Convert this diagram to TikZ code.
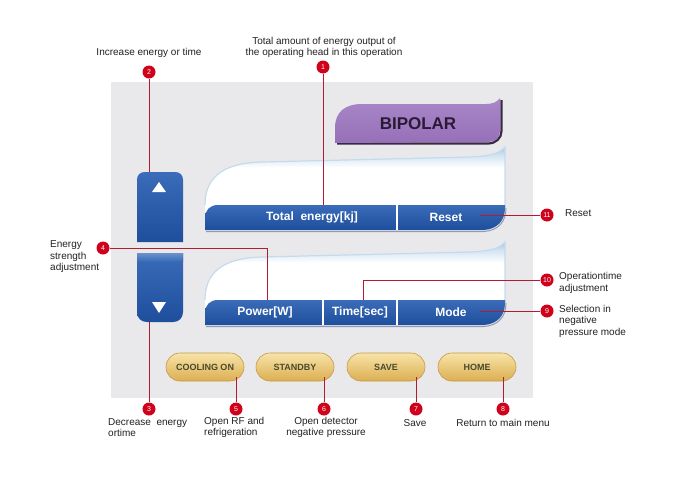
\documentclass[tikz,border=0pt]{standalone}
\usepackage{fontspec}
\setmainfont{Liberation Sans}
\usetikzlibrary{shapes.misc}
\definecolor{panelgray}{HTML}{E9E9EB}
\definecolor{tabpurple}{HTML}{9670B8}
\definecolor{tabtop}{HTML}{A987C8}
\definecolor{tabdark}{HTML}{3A2848}
\definecolor{tabtext}{HTML}{2A1A36}
\definecolor{barblue}{HTML}{2458A7}
\definecolor{bartop}{HTML}{3A6CB9}
\definecolor{barbot}{HTML}{1E4E9C}
\definecolor{barshadow}{HTML}{8E9AAE}
\definecolor{dispblue}{HTML}{A4C8E4}
\definecolor{displine}{HTML}{C4DBEE}
\definecolor{goldtop}{HTML}{F8E4A8}
\definecolor{goldbot}{HTML}{DCAE52}
\definecolor{goldline}{HTML}{C49A45}
\definecolor{goldtext}{HTML}{474B2E}
\definecolor{mred}{HTML}{D0021B}
\definecolor{mline}{HTML}{B41A30}
\definecolor{labtext}{HTML}{222222}
\pgfdeclareverticalshading{dispsh}{100bp}{color(0bp)=(white); color(25bp)=(white); color(62bp)=(white); color(70bp)=(dispblue!50); color(75bp)=(dispblue); color(100bp)=(dispblue)}
\tikzset{
  marker/.style={circle, fill=mred, minimum size=13pt, inner sep=0pt, text=white, font=\fontsize{7}{7}\selectfont},
  conn/.style={draw=mline, line width=0.9pt},
  lab/.style={text=labtext, font=\fontsize{10}{11.5}\selectfont, inner sep=0pt},
  barlab/.style={text=white, font=\bfseries\fontsize{12}{12}\selectfont, inner sep=0pt},
  goldbtn/.style={rounded rectangle, minimum width=78pt, minimum height=28pt, inner sep=0pt,
    top color=goldtop, bottom color=goldbot, draw=goldline, line width=0.6pt,
    text=goldtext, font=\bfseries\fontsize{9}{9}\selectfont},
  bluebtn/.style={top color=bartop, bottom color=barbot},
}
\begin{document}
\begin{tikzpicture}[x=1pt,y=-1pt]
\useasboundingbox (0,0) rectangle (675,482);
\fill[white] (0,0) rectangle (675,482);
% panel
\fill[panelgray] (111,82) rectangle (533,398);

% BIPOLAR tab
\draw[tabdark, line width=2.2pt] (337,143.5) -- (488,143.5) .. controls (496,143.5) and (501.5,138) .. (501.5,131) -- (501.5,100);
\shade[top color=tabtop, bottom color=tabpurple] (335,143) -- (335,128) .. controls (335,112) and (345,104) .. (362,104) -- (486,104) .. controls (493,104) and (497,102) .. (500,98) -- (500,131) .. controls (500,138) and (495,142) .. (488,142) -- cycle;
\node[text=tabtext, font=\bfseries\fontsize{17}{17}\selectfont, inner sep=0pt] (bipolar) at (418,124) {BIPOLAR};

% up / down buttons
\shade[bluebtn] (137,242) -- (137,180) .. controls (137,175) and (140,172) .. (145,172) -- (175,172) .. controls (180,172) and (183,175) .. (183,180) -- (183,242) -- cycle;
\shade[bluebtn] (137,253) -- (183,253) -- (183,312) .. controls (183,318) and (179,322) .. (173,322) -- (147,322) .. controls (141,322) and (137,318) .. (137,312) -- cycle;
\shade[top color=bartop!75!white, bottom color=bartop] (137,253) -- (183,253) -- (183,261) -- (137,261) -- cycle;
\fill[white] (159,182) -- (166,192) -- (152,192) -- cycle;
\fill[white] (159,313) -- (166,302) -- (152,302) -- cycle;

% displays
\foreach \dy in {0,95}{
\begin{scope}[shift={(0,\dy)}]
  \shade[shading=dispsh] (205,226) -- (205,205) .. controls (205,178) and (222,163) .. (262,162) -- (470,157) .. controls (492,156) and (500,153) .. (505,147) -- (505,208) -- cycle;
  \draw[displine, line width=1.2pt] (205,205) .. controls (205,178) and (222,163) .. (262,162) -- (470,157) .. controls (492,156) and (500,153) .. (505,147) -- (505,208);
  \draw[barshadow, line width=1pt] (206,231.5) -- (484,231.5) .. controls (498,230.5) and (506,222) .. (506,208);
  \shade[top color=bartop, bottom color=barbot] (205,230) -- (205,218) .. controls (205,210) and (210,205) .. (218,205) -- (505,205) -- (505,208) .. controls (505,221) and (497,229) .. (484,230) -- cycle;
  \draw[white, line width=2pt] (397,205) -- (397,230);
\end{scope}
}
\draw[white, line width=2pt] (323,300) -- (323,325);

% bar labels
\node[barlab] (ltot) at (312,217) {Total\ \ energy[kj]};
\node[barlab] (lrst) at (446,217) {Reset};
\node[barlab] (lpow) at (265,312) {Power[W]};
\node[barlab] (ltim) at (360,312) {Time[sec]};
\node[barlab] (lmod) at (451,312) {Mode};

% gold buttons
\node[goldbtn] (bcool) at (205,367) {COOLING ON};
\node[goldbtn] (bstand) at (295,367) {STANDBY};
\node[goldbtn] (bsave) at (386,367) {SAVE};
\node[goldbtn] (bhome) at (477,367) {HOME};

% connector targets
\coordinate (t1) at (323,205);
\coordinate (t2) at (149,172);
\coordinate (t3) at (149,322);
\coordinate (t4) at (267,300);
\coordinate (t5) at (236,377);
\coordinate (t6) at (324,377);
\coordinate (t7) at (416,377);
\coordinate (t8) at (503,377);
\coordinate (t9) at (480,311);
\coordinate (t10) at (363,300);
\coordinate (t11) at (480,215);

% markers
\node[marker] (m1) at (323,67) {1};
\node[marker] (m2) at (149,72) {2};
\node[marker] (m3) at (149,409) {3};
\node[marker] (m4) at (103,248) {4};
\node[marker] (m5) at (236,409) {5};
\node[marker] (m6) at (324,409) {6};
\node[marker] (m7) at (416,409) {7};
\node[marker] (m8) at (503,409) {8};
\node[marker] (m9) at (547,311) {9};
\node[marker] (m10) at (547,280) {10};
\node[marker] (m11) at (547,215) {11};

% connectors
\draw[conn] (m1) -- (t1);
\draw[conn] (m2) -- (t2);
\draw[conn] (m3) -- (t3);
\draw[conn] (m4) -| (t4);
\draw[conn] (m5) -- (t5);
\draw[conn] (m6) -- (t6);
\draw[conn] (m7) -- (t7);
\draw[conn] (m8) -- (t8);
\draw[conn] (m9) -- (t9);
\draw[conn] (m10) -| (t10);
\draw[conn] (m11) -- (t11);

% labels
\node[lab] (l2) at (149,53) {Increase energy or time};
\node[lab, align=center] (l1) at (324,47.5) {Total amount of energy output of\\the operating head in this operation};
\node[lab, align=left, anchor=west] (l4) at (50,257) {Energy\\strength\\adjustment};
\node[lab, align=left, anchor=west] (l3) at (108,427.5) {Decrease\ \ energy\\ortime};
\node[lab, align=left, anchor=west] (l5) at (204,427.5) {Open RF and\\refrigeration};
\node[lab, align=center] (l6) at (326,427.5) {Open detector\\negative pressure};
\node[lab] (l7) at (415,423) {Save};
\node[lab] (l8) at (503,423) {Return to main menu};
\node[lab, anchor=west] (l11) at (565,213) {Reset};
\node[lab, align=left, anchor=west] (l10) at (559,283) {Operationtime\\adjustment};
\node[lab, align=left, anchor=west] (l9) at (559,321) {Selection in\\negative\\pressure mode};
\end{tikzpicture}
\end{document}
